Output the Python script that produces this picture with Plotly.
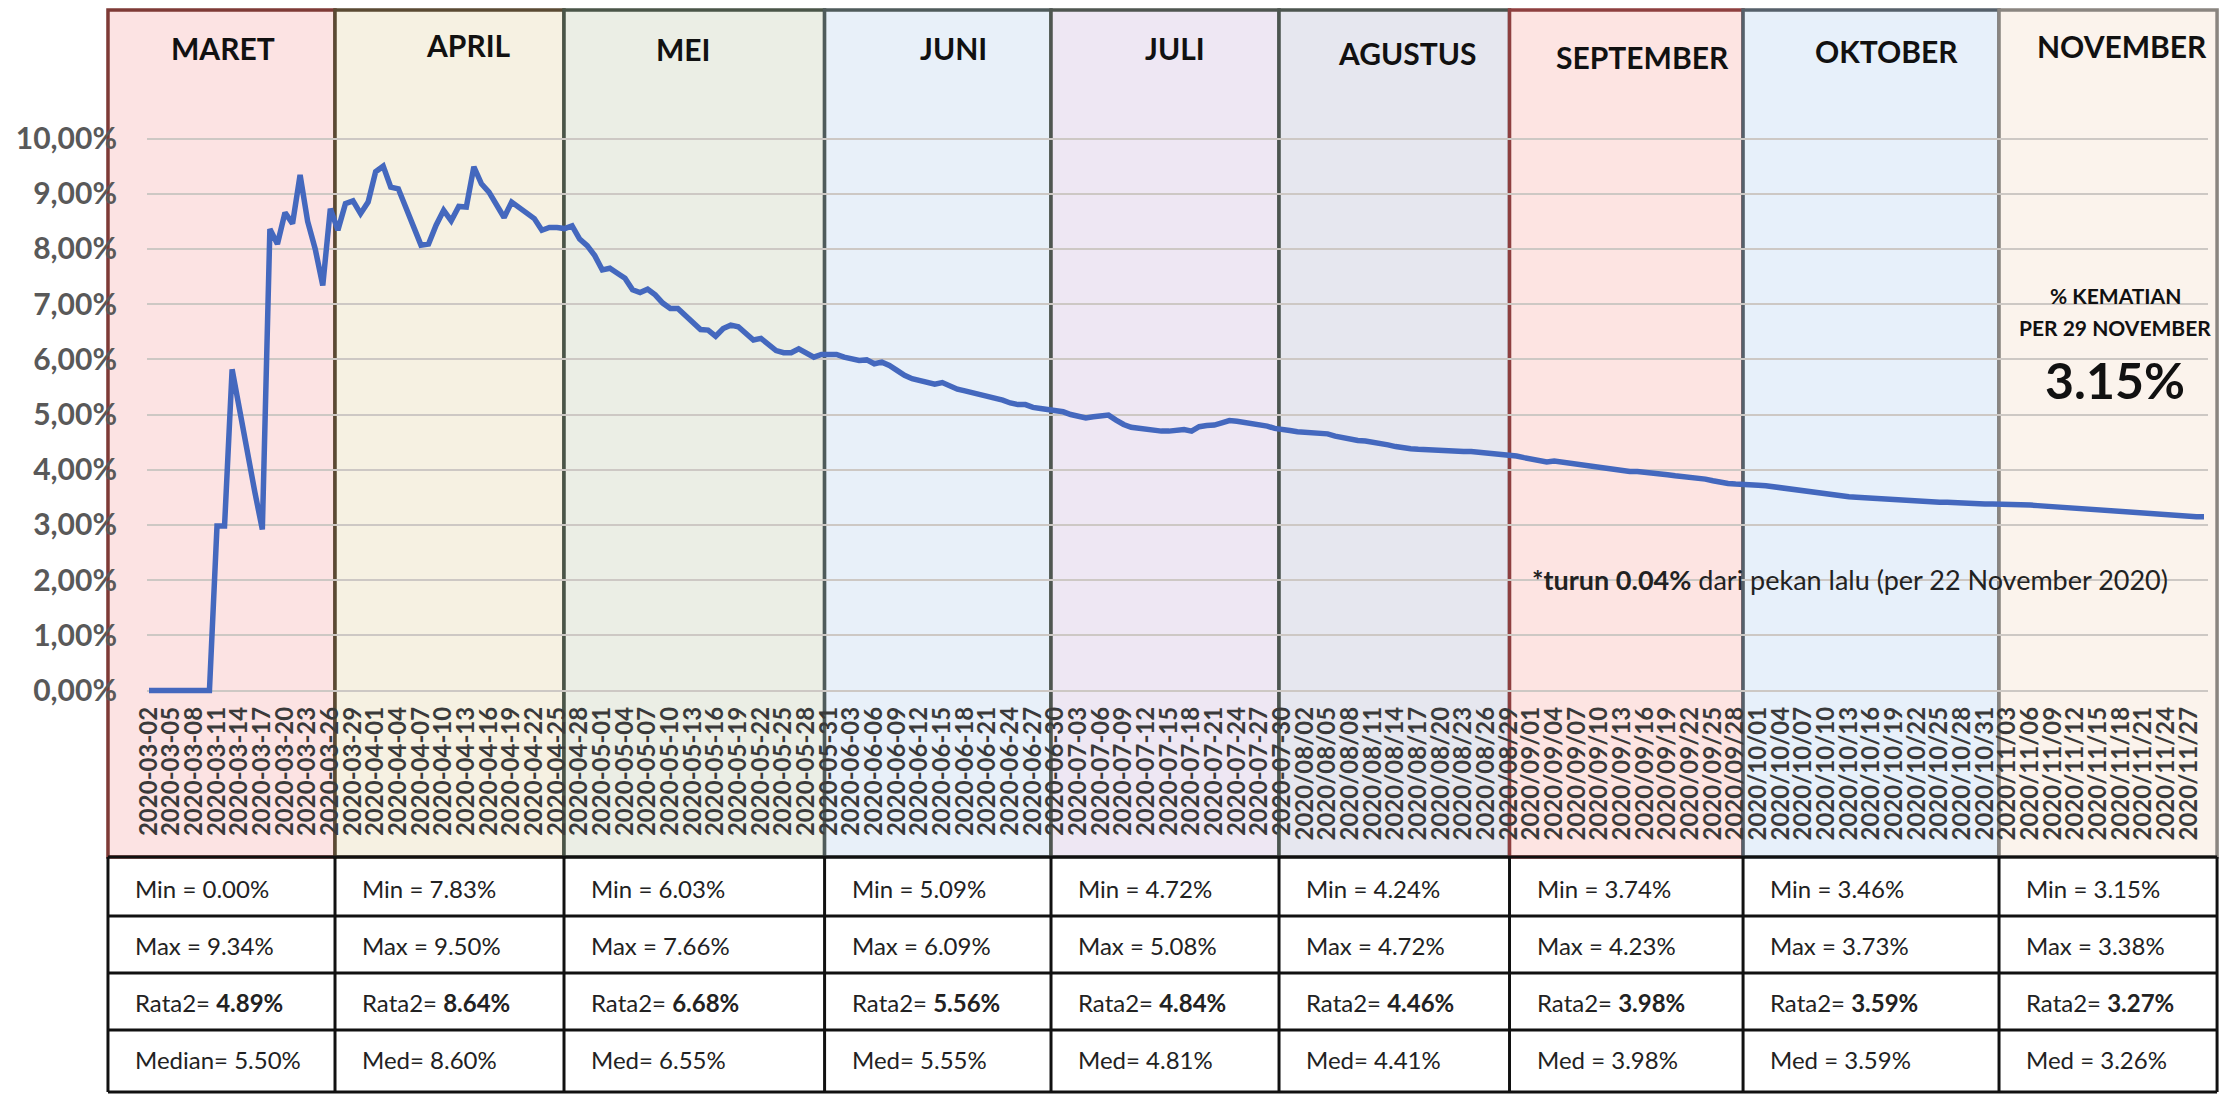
import plotly.graph_objects as go
import pandas as pd

# ---------------- data ----------------
cfr_mar = [0, 0, 0, 0, 0, 0, 0, 0, 0, 2.98, 2.98, 5.82, 5.05, 4.30, 3.60, 2.92, 8.36, 8.09, 8.66, 8.46,
           9.34, 8.50, 8.00, 7.34, 8.73, 8.34, 8.82, 8.87, 8.64, 8.85]
cfr_apr = [9.40, 9.50, 9.12, 9.09, 8.73, 8.40, 8.07, 8.09, 8.43, 8.70, 8.51, 8.77, 8.76, 9.49, 9.18,
           9.03, 8.82, 8.57, 8.85, 8.75, 8.64, 8.55, 8.34, 8.39, 8.39, 8.37, 8.42, 8.18, 8.06, 7.88]
cfr_may = [7.62, 7.65, 7.56, 7.47, 7.26, 7.21, 7.27, 7.17, 7.02, 6.92, 6.92, 6.80, 6.65, 6.54, 6.53,
           6.42, 6.56, 6.62, 6.59, 6.47, 6.35, 6.38, 6.26, 6.16, 6.12, 6.12, 6.19, 6.12, 6.04, 6.09, 6.10]
cfr_jun = [6.09, 6.04, 6.01, 5.98, 5.99, 5.92, 5.95, 5.89, 5.80, 5.71, 5.65, 5.62, 5.57, 5.55, 5.58,
           5.51, 5.46, 5.43, 5.40, 5.37, 5.33, 5.30, 5.26, 5.21, 5.18, 5.18, 5.13, 5.11, 5.09, 5.09]
cfr_jul = [5.05, 5.00, 4.96, 4.94, 4.96, 4.98, 4.99, 4.90, 4.82, 4.77, 4.75, 4.73, 4.71, 4.70, 4.70,
           4.71, 4.73, 4.70, 4.78, 4.80, 4.81, 4.85, 4.89, 4.88, 4.86, 4.85, 4.82, 4.79, 4.75, 4.72, 4.71]
cfr_aug = [4.69, 4.68, 4.67, 4.66, 4.65, 4.61, 4.58, 4.55, 4.53, 4.52, 4.50, 4.49, 4.45, 4.42, 4.39,
           4.38, 4.37, 4.36, 4.35, 4.34, 4.33, 4.33, 4.33, 4.33, 4.32, 4.31, 4.30, 4.29, 4.27, 4.25, 4.22]
cfr_sep = [4.19, 4.15, 4.14, 4.16, 4.14, 4.12, 4.11, 4.09, 4.08, 4.06, 4.03, 4.01, 3.98, 3.97, 3.97,
           3.96, 3.95, 3.93, 3.91, 3.89, 3.88, 3.87, 3.85, 3.83, 3.80, 3.77, 3.75, 3.74, 3.74, 3.73]
cfr_oct = [3.72, 3.71, 3.69, 3.68, 3.66, 3.64, 3.62, 3.60, 3.58, 3.56, 3.54, 3.52, 3.51, 3.50, 3.49,
           3.48, 3.47, 3.46, 3.45, 3.44, 3.43, 3.43, 3.42, 3.42, 3.41, 3.41, 3.40, 3.39, 3.39, 3.38, 3.38]
cfr_nov = [3.38, 3.38, 3.38, 3.37, 3.37, 3.36, 3.35, 3.34, 3.33, 3.31, 3.30, 3.29, 3.28, 3.27, 3.26,
           3.25, 3.24, 3.24, 3.23, 3.22, 3.21, 3.19, 3.18, 3.17, 3.17, 3.16, 3.16, 3.15, 3.15]

cfr = cfr_mar + cfr_apr + cfr_may + cfr_jun + cfr_jul + cfr_aug + cfr_sep + cfr_oct + cfr_nov

dates = pd.date_range("2020-03-02", "2020-11-29", freq="D")
categories = [d.strftime("%Y-%m-%d") if d.month < 8 else d.strftime("%Y/%m/%d") for d in dates]
assert len(categories) == len(cfr)
tick_labels = categories[::3]

y_ticks = list(range(0, 11))
y_tick_text = [f"{v},00%" for v in y_ticks]

months = ["MARET", "APRIL", "MEI", "JUNI", "JULI", "AGUSTUS", "SEPTEMBER", "OKTOBER", "NOVEMBER"]
stat_min = ["0.00%", "7.83%", "6.03%", "5.09%", "4.72%", "4.24%", "3.74%", "3.46%", "3.15%"]
stat_max = ["9.34%", "9.50%", "7.66%", "6.09%", "5.08%", "4.72%", "4.23%", "3.73%", "3.38%"]
stat_mean = ["4.89%", "8.64%", "6.68%", "5.56%", "4.84%", "4.46%", "3.98%", "3.59%", "3.27%"]
stat_med = ["5.50%", "8.60%", "6.55%", "5.55%", "4.81%", "4.41%", "3.98%", "3.59%", "3.26%"]
med_prefix = ["Median= ", "Med= ", "Med= ", "Med= ", "Med= ", "Med= ", "Med = ", "Med = ", "Med = "]

# ---------------- layout geometry ----------------
W, H = 2225, 1095
ML, MR, MT, MB = 147, 17, 111, 394
X0, X1 = -0.265, 272.53
Y0, Y1 = -0.19, 10.5

# month panel edges, in day-index units of the category axis
box_edges = [-5.43, 24.62, 54.93, 89.42, 119.39, 149.57, 180.08, 210.99, 244.87, 273.73]
box_fill = ["#fce3e3", "#f6f1e2", "#ebeee5", "#e8f0f9", "#eee7f3", "#e6e7ef", "#fde4e2", "#e7f0fa", "#fbf3ec"]
box_line = ["#7e3a36", "#5a4a33", "#4a5548", "#4f5b5b", "#4f5650", "#4c554f", "#8e3f3f", "#56606a", "#8a8580"]
title_px = [(223, 48), (468, 45), (683, 49), (953, 48), (1175, 48), (1407, 53), (1642, 57), (1886, 51), (2122, 46)]

PW = W - ML - MR
PH = H - MT - MB


def xpap(idx):
    return (idx - X0) / (X1 - X0)


def pxx(px):
    return (px - ML) / PW


def pxy(py):
    return (H - MB - py) / PH


FONT = "Lato"
shapes = []
annotations = []


def note(px, py, text, size, color="#111111", weight="normal", xanchor="center"):
    return dict(xref="paper", yref="paper", x=pxx(px), y=pxy(py), text=text, showarrow=False,
                xanchor=xanchor, yanchor="middle",
                font=dict(family=FONT, size=size, color=color, weight=weight))


box_top, box_bot = pxy(10), pxy(857)
for i in range(9):
    shapes.append(dict(type="rect", xref="paper", yref="paper",
                       x0=xpap(box_edges[i]), x1=xpap(box_edges[i + 1]), y0=box_bot, y1=box_top,
                       fillcolor=box_fill[i], line=dict(color=box_line[i], width=3.5), layer="below"))
    tx, ty = title_px[i]
    annotations.append(note(tx, ty, months[i], 30, weight="bold"))

# table grid
row_lines = [857, 916, 973, 1030, 1092]
for r in row_lines:
    shapes.append(dict(type="line", xref="paper", yref="paper", x0=xpap(box_edges[0]), x1=xpap(box_edges[-1]),
                       y0=pxy(r), y1=pxy(r), line=dict(color="#111111", width=3), layer="above"))
for e in box_edges:
    shapes.append(dict(type="line", xref="paper", yref="paper", x0=xpap(e), x1=xpap(e),
                       y0=pxy(row_lines[0]), y1=pxy(row_lines[-1]), line=dict(color="#111111", width=3),
                       layer="above"))

row_centers = [888, 945, 1002, 1059]
for i in range(9):
    texts = [f"Min = {stat_min[i]}", f"Max = {stat_max[i]}", f"Rata2= <b>{stat_mean[i]}</b>",
             f"{med_prefix[i]}{stat_med[i]}"]
    for t, rc in zip(texts, row_centers):
        annotations.append(dict(xref="paper", yref="paper", x=xpap(box_edges[i]) + 25 / PW, y=pxy(rc),
                                text=t, showarrow=False, xanchor="left", yanchor="middle",
                                font=dict(family=FONT, size=24, color="#222222")))

annotations += [
    note(2115, 295, "% KEMATIAN", 21, weight="bold"),
    note(2115, 327, "PER 29 NOVEMBER", 21, weight="bold"),
    note(2115, 380, "3.15%", 50, weight="bold"),
    note(1850, 579, "<b>*turun 0.04%</b> dari pekan lalu (per 22 November 2020)", 27, color="#222222"),
]

fig = go.Figure()
fig.add_trace(go.Scatter(x=categories, y=cfr, mode="lines",
                         line=dict(color="#4468be", width=5.5), hoverinfo="x+y", showlegend=False))

fig.update_layout(
    width=W, height=H,
    margin=dict(l=ML, r=MR, t=MT, b=MB, pad=0, autoexpand=False),
    paper_bgcolor="white", plot_bgcolor="rgba(0,0,0,0)",
    shapes=shapes, annotations=annotations, showlegend=False,
    xaxis=dict(type="category", range=[X0, X1], tickmode="array", tickvals=tick_labels, ticktext=tick_labels,
               tickangle=-90, showgrid=False, zeroline=False, showline=False, ticks="", automargin=False,
               tickfont=dict(family=FONT, size=24, color="#3a3a3a", weight="bold")),
    yaxis=dict(range=[Y0, Y1], tickmode="array", tickvals=y_ticks, ticktext=y_tick_text,
               showgrid=True, gridcolor="#cdc8c4", gridwidth=2, zeroline=False, showline=False, ticks="",
               ticklabelstandoff=29, automargin=False,
               tickfont=dict(family=FONT, size=30, color="#595959", weight="bold")),
)

fig.write_html("out.html", config={"displayModeBar": False},
               post_script="document.body.style.margin='0px';")
